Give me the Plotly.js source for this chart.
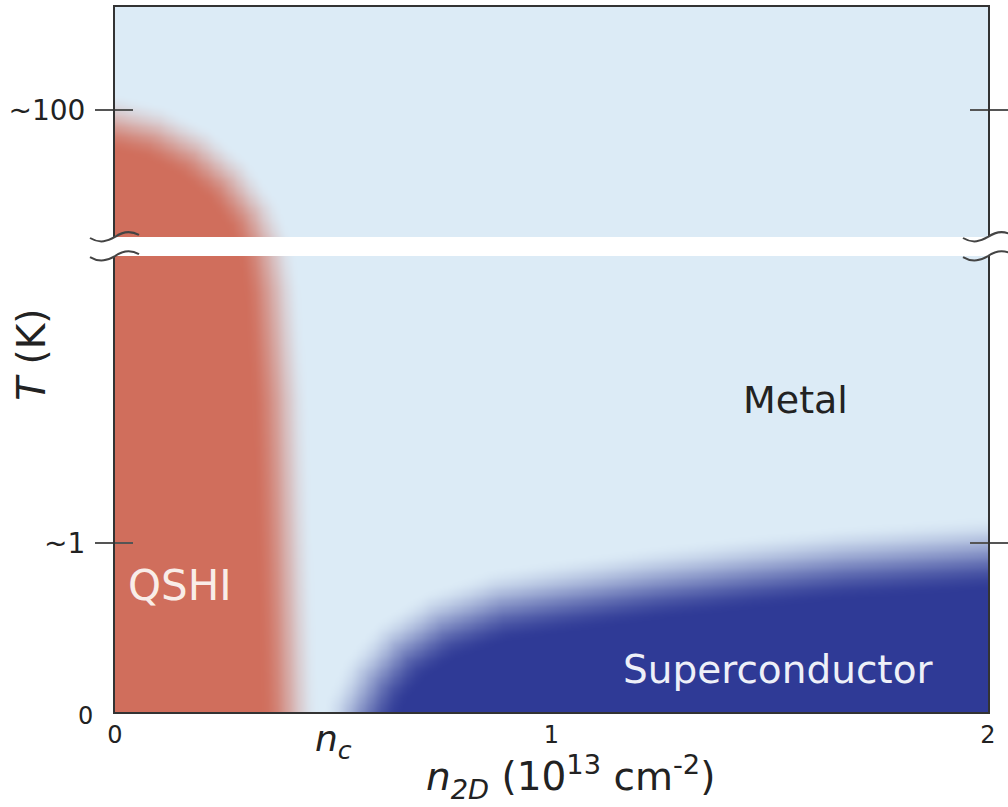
<!DOCTYPE html>
<html><head><meta charset="utf-8">
<script src="https://cdn.plot.ly/plotly-3.0.1.min.js"></script>
<style>html,body{margin:0;padding:0;background:#fff;}#chart{width:1008px;height:807px;}</style>
</head><body><div id="chart"></div>
<script>
// Phase boundaries
// x: n2D (1e13 cm^-2); y: scaled temperature axis where 1 = "~1 K", 3.562 = "~100 K"
const qshiBoundaryX = [0.000, 0.092, 0.183, 0.259, 0.314, 0.346, 0.360, 0.378, 0.389, 0.401];
const qshiBoundaryY = [3.491, 3.432, 3.314, 3.148, 2.947, 2.734, 2.497, 1.846, 0.959, 0.000];
const scBoundaryX   = [0.561, 0.596, 0.653, 0.745, 0.882, 1.003, 1.233, 1.455, 1.661, 2.000];
const scBoundaryY   = [0.000, 0.189, 0.367, 0.515, 0.633, 0.680, 0.763, 0.828, 0.882, 0.941];
const yTickVals = [1, 3.562];
const yTickText = ['~1', '~100'];
const xTickVals = [0, 1, 2];
const xTickText = ['0', '1', '2'];
const axisBreak = [2.698, 2.811];
const ncValue = 0.5;
const phaseLabels = ['QSHI', 'Metal', 'Superconductor'];
const phaseLabelX = [0.149, 1.558, 1.519];
const phaseLabelY = [0.746, 1.846, 0.249];

const XR = [0, 2], YR = [0, 4.172];
const KX = 436.5, KY = 169; // pixel scale for isotropic blur

function segDist(px, py, ax, ay, bx, by) {
  const dx = bx - ax, dy = by - ay;
  const L = dx * dx + dy * dy;
  let t = L ? ((px - ax) * dx + (py - ay) * dy) / L : 0;
  t = Math.max(0, Math.min(1, t));
  const qx = ax + t * dx - px, qy = ay + t * dy - py;
  return Math.sqrt(qx * qx + qy * qy);
}
function polyDist(x, y, XS, YS) {
  let d = Infinity;
  for (let k = 0; k < XS.length - 1; k++) {
    d = Math.min(d, segDist(x * KX, y * KY, XS[k] * KX, YS[k] * KY, XS[k + 1] * KX, YS[k + 1] * KY));
  }
  return d;
}
function interp(v, vs, ws) {
  if (v <= vs[0]) return ws[0];
  for (let k = 0; k < vs.length - 1; k++) {
    if (v <= vs[k + 1]) { const t = (v - vs[k]) / (vs[k + 1] - vs[k]); return ws[k] + t * (ws[k + 1] - ws[k]); }
  }
  return ws[ws.length - 1];
}
function soft(sd, h) {
  let m = Math.max(0, Math.min(1, 0.5 + sd / (2 * h)));
  return m * m * (3 - 2 * m);
}
const qYasc = qshiBoundaryY.slice().reverse(), qXasc = qshiBoundaryX.slice().reverse();
const xs = [], ys = [];
for (let i = 0; i <= 204; i++) xs.push(-0.02 + i * 0.01);
for (let j = 0; j <= 214; j++) ys.push(-0.04 + j * 0.02);
const z = ys.map(y => xs.map(x => {
  const qIn = (y <= qYasc[qYasc.length - 1]) && (x <= interp(y, qYasc, qXasc));
  const dq = polyDist(x, y, qshiBoundaryX, qshiBoundaryY);
  const q = soft(qIn ? dq : -dq, 29);
  const sIn = (x >= scBoundaryX[0]) && (y <= interp(x, scBoundaryX, scBoundaryY));
  const ds = polyDist(x, y, scBoundaryX, scBoundaryY);
  const s = soft(sIn ? ds : -ds, 38);
  return s - q;
}));

const traces = [
  { type: 'heatmap', x: xs, y: ys, z: z, zmin: -1, zmax: 1, zsmooth: 'best', showscale: false, hoverinfo: 'skip',
    colorscale: [[0, '#d06e5c'], [0.5, '#dcebf6'], [1, '#2f3a96']] },
  { type: 'scatter', x: [null], y: [null], xaxis: 'x', yaxis: 'y2', showlegend: false, hoverinfo: 'skip' }
];

function squiggle(xp, yd) {
  const pts = [[-25, 1], [-15, 7], [-7, 4], [0, 0], [7, -5], [15, -7], [24, -2]];
  const c = pts.map(p => [(xp + p[0] / 873).toFixed(5), (yd - p[1] / KY).toFixed(5)]);
  return `M${c[0][0]},${c[0][1]} C${c[1][0]},${c[1][1]} ${c[2][0]},${c[2][1]} ${c[3][0]},${c[3][1]} C${c[4][0]},${c[4][1]} ${c[5][0]},${c[5][1]} ${c[6][0]},${c[6][1]}`;
}
const shapes = [
  { type: 'rect', xref: 'paper', yref: 'y', x0: -0.02, x1: 1.02, y0: axisBreak[0], y1: axisBreak[1],
    fillcolor: '#ffffff', line: { width: 0 }, layer: 'above' }
];
[0, 1].forEach(xp => {
  axisBreak.forEach(yd => {
    shapes.push({ type: 'path', xref: 'paper', yref: 'y', path: squiggle(xp, yd), line: { color: '#444', width: 2 }, layer: 'above' });
  });
});

const F = 'DejaVu Sans, Verdana, sans-serif';
const annotations = [
  { xref: 'paper', yref: 'y', x: 0, y: 0, xanchor: 'right', yanchor: 'middle', xshift: -20, yshift: -4,
    text: '0', showarrow: false, font: { size: 24, color: '#222', family: F } },
  { xref: 'x', yref: 'paper', x: ncValue, y: -0.042, xanchor: 'center', yanchor: 'middle',
    text: '<i>n</i><sub><i>c</i></sub>', showarrow: false, font: { size: 36, color: '#222', family: F } },
  { xref: 'paper', yref: 'paper', x: 0.522, y: -0.092, xanchor: 'center', yanchor: 'middle',
    text: '<i>n</i><sub><i>2D</i></sub> (10<sup>13</sup> cm<sup>-2</sup>)', showarrow: false, font: { size: 39, color: '#222', family: F } },
  { xref: 'paper', yref: 'paper', x: -0.096, y: 0.507, xanchor: 'center', yanchor: 'middle', textangle: -90,
    text: '<i>T</i> (K)', showarrow: false, font: { size: 39, color: '#222', family: F } },
  { xref: 'x', yref: 'y', x: phaseLabelX[0], y: phaseLabelY[0], text: phaseLabels[0], showarrow: false,
    font: { size: 42, color: '#f9ede8', family: F } },
  { xref: 'x', yref: 'y', x: phaseLabelX[1], y: phaseLabelY[1], text: phaseLabels[1], showarrow: false,
    font: { size: 38, color: '#222', family: F } },
  { xref: 'x', yref: 'y', x: phaseLabelX[2], y: phaseLabelY[2], text: phaseLabels[2], showarrow: false,
    font: { size: 39, color: '#eef0f8', family: F } }
];

const layout = {
  width: 1008, height: 807,
  margin: { l: 115, r: 20, t: 7, b: 95 },
  paper_bgcolor: '#ffffff', plot_bgcolor: '#dcebf6',
  font: { family: F, color: '#222' },
  showlegend: false,
  xaxis: { range: XR, tickvals: xTickVals, ticktext: xTickText, ticks: '', showgrid: false, zeroline: false,
    showline: true, mirror: true, linecolor: '#333', linewidth: 2, tickfont: { size: 24, color: '#222' },
    ticklabelstandoff: 0, fixedrange: true },
  yaxis: { range: YR, tickvals: yTickVals, ticktext: yTickText, ticks: 'outside', ticklen: 18, tickwidth: 2,
    tickcolor: '#555', showgrid: false, zeroline: false, showline: true, mirror: 'ticks', linecolor: '#333',
    linewidth: 2, tickfont: { size: 28, color: '#222' }, ticklabelstandoff: 4, fixedrange: true },
  yaxis2: { range: YR, overlaying: 'y', side: 'left', tickvals: yTickVals, ticktext: yTickText, ticks: 'inside',
    ticklen: 18, tickwidth: 2, tickcolor: '#555', showgrid: false, zeroline: false, showline: true,
    mirror: 'ticks', linecolor: '#333', linewidth: 2, showticklabels: false, fixedrange: true },
  shapes: shapes,
  annotations: annotations
};
Plotly.newPlot('chart', traces, layout, { displayModeBar: false, staticPlot: true });
</script></body></html>
